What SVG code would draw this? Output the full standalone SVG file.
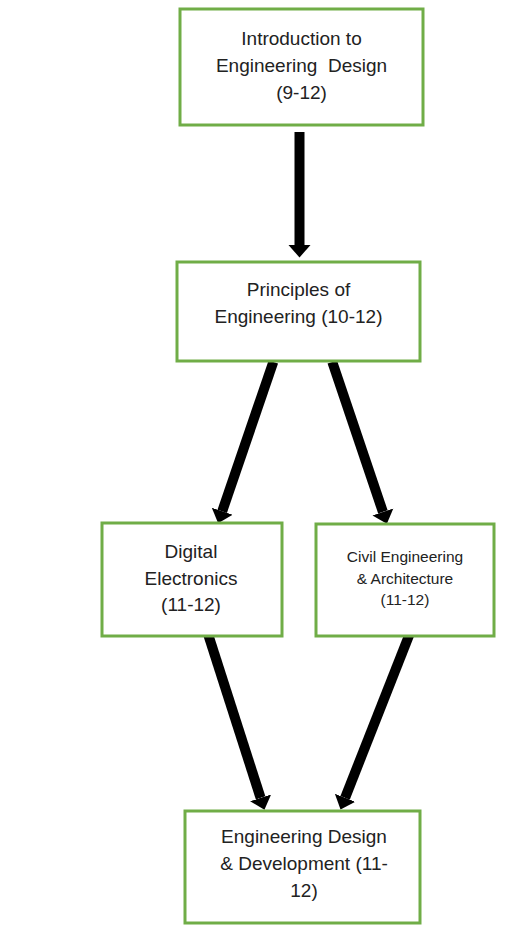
<svg xmlns="http://www.w3.org/2000/svg" width="525" height="926" viewBox="0 0 525 926">
<style>
.box{fill:#ffffff;stroke:#70AD47;stroke-width:3}
.t{font-family:"Liberation Sans",Arial,sans-serif;font-size:19px;fill:#222222;text-anchor:middle;white-space:pre}
.s{font-size:15.5px}
.arr{stroke:#000000;stroke-width:10;fill:none;marker-end:url(#head)}
</style>
<defs>
<marker id="head" markerUnits="userSpaceOnUse" markerWidth="13" markerHeight="24" refX="0" refY="12" orient="auto" viewBox="0 0 13 24">
<path d="M0,1 L12.5,12 L0,23 Z" fill="#000000"/>
</marker>
</defs>
<rect width="525" height="926" fill="#ffffff"/>
<g id="connectors">
<line class="arr" x1="299.5" y1="132" x2="299.5" y2="245"/>
<line class="arr" x1="273.3" y1="362" x2="222.2" y2="511.3"/>
<line class="arr" x1="332.3" y1="362" x2="382.9" y2="511.9"/>
<line class="arr" x1="207.7" y1="633" x2="260.6" y2="797.9"/>
<line class="arr" x1="410" y1="633" x2="345.1" y2="797.8"/>
</g>
<g id="node-intro">
<rect class="box" x="180" y="9" width="243" height="116"/>
<text class="t" x="301.5" y="45">Introduction to</text>
<text class="t" x="301.5" y="72">Engineering  Design</text>
<text class="t" x="301.5" y="99">(9-12)</text>
</g>
<g id="node-principles">
<rect class="box" x="177" y="262" width="243" height="99"/>
<text class="t" x="298.5" y="296">Principles of</text>
<text class="t" x="298.5" y="323">Engineering (10-12)</text>
</g>
<g id="node-digital">
<rect class="box" x="102" y="523" width="180" height="113"/>
<text class="t" x="191" y="558">Digital</text>
<text class="t" x="191" y="585">Electronics</text>
<text class="t" x="191" y="611">(11-12)</text>
</g>
<g id="node-civil">
<rect class="box" x="316" y="524" width="178" height="112"/>
<text class="t s" x="405" y="562">Civil Engineering</text>
<text class="t s" x="405" y="584">&amp; Architecture</text>
<text class="t s" x="405" y="605">(11-12)</text>
</g>
<g id="node-edd">
<rect class="box" x="185" y="811" width="235" height="112"/>
<text class="t" x="304" y="843">Engineering Design</text>
<text class="t" x="304" y="870">&amp; Development (11-</text>
<text class="t" x="304" y="897">12)</text>
</g>
</svg>
